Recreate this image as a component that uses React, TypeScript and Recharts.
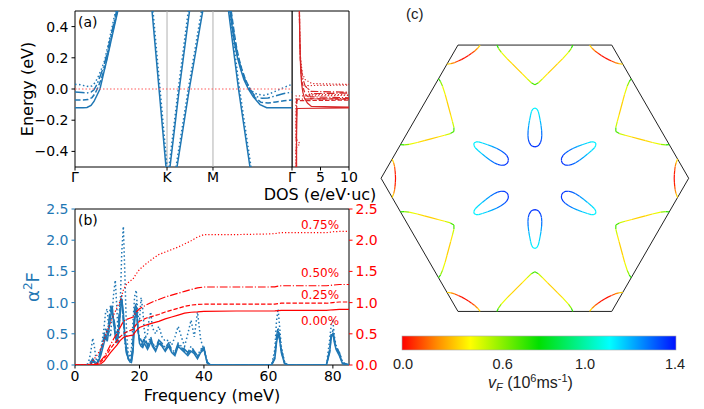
import React from 'react';
import { LineChart, Line, XAxis, YAxis, ReferenceLine, ReferenceArea } from 'recharts';

type Pt = [number, number];

const BLUE = '#1f77b4';
const RED = '#ff0000';
const DOS_RED = '#d62728';

// line styles for the four strains: 0.00 / 0.25 / 0.50 / 0.75 %
const DASH_025 = '5.5 2.4';
const DASH_050 = '9.6 2.4 1.5 2.4';
const DASH_075 = '1.5 2.5';

// ---------- (a) bands, k-path Γ-K-M-Γ ----------
const K_TICKS = [0, 1.338, 2.006, 3.155];
const K_LABELS = ['Γ', 'K', 'M', 'Γ'];
const E_TICKS = [-0.4, -0.2, 0, 0.2, 0.4];

const BAND_A_000: Pt[] = [[0, -0.12], [0.116, -0.12], [0.174, -0.118], [0.233, -0.105], [0.276, -0.08], [0.32, -0.04], [0.363, 0], [0.416, 0.1], [0.47, 0.2], [0.52, 0.3], [0.571, 0.4], [0.622, 0.5]];
const BAND_A_025: Pt[] = [[0, -0.07], [0.116, -0.07], [0.189, -0.068], [0.247, -0.055], [0.291, -0.03], [0.334, 0.01], [0.378, 0.06], [0.422, 0.12], [0.465, 0.2], [0.513, 0.3], [0.564, 0.4], [0.614, 0.5]];
const BAND_A_050: Pt[] = [[0, -0.02], [0.102, -0.022], [0.174, -0.025], [0.233, -0.02], [0.276, -0.005], [0.32, 0.03], [0.364, 0.08], [0.407, 0.13], [0.451, 0.2], [0.502, 0.3], [0.553, 0.4], [0.604, 0.5]];
const BAND_A_075: Pt[] = [[0, 0.03], [0.073, 0.028], [0.145, 0.02], [0.204, 0.015], [0.247, 0.02], [0.291, 0.04], [0.334, 0.075], [0.378, 0.12], [0.429, 0.18], [0.48, 0.28], [0.531, 0.38], [0.589, 0.5]];

const BAND_B: Pt[] = [[1.12, 0.5], [1.323, -0.5]];
const BAND_B_075: Pt[] = [[1.134, 0.5], [1.338, -0.5]];
const BAND_C: Pt[] = [[1.381, -0.5], [1.516, 0], [1.665, 0.5]];
const BAND_C_075: Pt[] = [[1.367, -0.5], [1.502, 0], [1.647, 0.5]];
const BAND_D: Pt[] = [[1.483, -0.5], [1.662, 0], [1.857, 0.5]];
const BAND_D_075: Pt[] = [[1.468, -0.5], [1.647, 0], [1.839, 0.5]];
const BAND_E: Pt[] = [[2.232, 0.5], [2.377, 0], [2.544, -0.5]];
const BAND_E_075: Pt[] = [[2.246, 0.5], [2.392, 0], [2.559, -0.5]];

const BAND_F_000: Pt[] = [[2.254, 0.5], [2.275, 0.43], [2.297, 0.36], [2.326, 0.28], [2.363, 0.2], [2.406, 0.13], [2.457, 0.06], [2.52, 0], [2.592, -0.05], [2.69, -0.1], [2.787, -0.12], [2.908, -0.12], [3.155, -0.12]];
const BAND_F_025: Pt[] = [[2.271, 0.5], [2.293, 0.43], [2.315, 0.36], [2.344, 0.28], [2.38, 0.2], [2.424, 0.13], [2.479, 0.06], [2.544, 0], [2.617, -0.055], [2.704, -0.085], [2.806, -0.09], [2.922, -0.083], [3.039, -0.075], [3.155, -0.07]];
const BAND_F_050: Pt[] = [[2.265, 0.5], [2.287, 0.43], [2.309, 0.36], [2.338, 0.28], [2.374, 0.2], [2.418, 0.13], [2.472, 0.06], [2.537, 0], [2.617, -0.045], [2.719, -0.06], [2.806, -0.058], [2.908, -0.045], [3.024, -0.03], [3.155, -0.02]];
const BAND_F_075: Pt[] = [[2.261, 0.5], [2.283, 0.43], [2.304, 0.36], [2.334, 0.28], [2.37, 0.2], [2.413, 0.13], [2.464, 0.07], [2.53, 0.01], [2.602, -0.025], [2.661, -0.035], [2.748, -0.04], [2.835, -0.03], [2.937, -0.01], [3.039, 0.01], [3.155, 0.03]];

// DOS as [dos, energy]
const DOS_TICKS = [5, 10];
const DOS_000: Pt[] = [[0.8, -0.5], [0.8, -0.3], [0.85, -0.2], [0.9, -0.125], [12, -0.12], [12, -0.117], [3.4, -0.112], [2.7, -0.09], [2.2, -0.06], [1.9, -0.02], [1.7, 0.03], [1.55, 0.1], [1.45, 0.2], [1.35, 0.35], [1.3, 0.5]];
const DOS_025: Pt[] = [[0.78, -0.5], [0.78, -0.2], [0.85, -0.075], [12, -0.07], [12, -0.067], [3.3, -0.062], [2.5, -0.04], [2.1, -0.01], [1.8, 0.04], [1.6, 0.1], [1.45, 0.2], [1.35, 0.35], [1.3, 0.5]];
const DOS_050: Pt[] = [[0.75, -0.5], [0.75, -0.2], [0.8, -0.065], [12, -0.06], [12, -0.058], [3.2, -0.05], [3.0, -0.03], [12, -0.025], [12, -0.022], [3.3, -0.015], [2.3, 0.02], [1.8, 0.08], [1.5, 0.18], [1.35, 0.35], [1.3, 0.5]];
const DOS_075: Pt[] = [[0.7, -0.5], [0.7, -0.38], [1.4, -0.35], [0.7, -0.32], [0.7, -0.045], [12, -0.04], [12, -0.038], [3.0, -0.034], [2.8, 0], [2.8, 0.022], [12, 0.026], [12, 0.028], [3.5, 0.035], [2.3, 0.06], [1.8, 0.1], [1.5, 0.2], [1.35, 0.35], [1.3, 0.5]];

// ---------- (b) Eliashberg function and cumulative lambda ----------
const FREQ = [0, 3, 4, 4.5, 5, 5.5, 6, 6.5, 7, 7.5, 8, 8.5, 9, 9.5, 10, 10.5, 11, 11.5, 12, 12.5, 13, 13.5, 14, 14.5, 15, 15.5, 16, 16.5, 17, 17.5, 18, 18.5, 19, 19.5, 20, 20.5, 21, 21.5, 22, 22.5, 23, 23.5, 24, 25, 26, 27, 28, 29, 30, 31, 32, 33, 34, 35, 36, 37, 38, 39, 40, 41, 42, 61, 62, 62.5, 63, 63.5, 64, 65, 66, 78, 79, 79.5, 80, 80.5, 81, 82, 83, 85];
const A2F_000 = [0, 0, 0, 0.01, 0.02, 0.05, 0.04, 0.02, 0.03, 0.08, 0.15, 0.25, 0.35, 0.45, 0.38, 0.55, 0.75, 0.95, 0.7, 0.45, 0.35, 0.5, 0.8, 1.05, 0.85, 0.45, 0.25, 0.12, 0.05, 0.04, 0.2, 0.7, 0.92, 0.6, 0.35, 0.3, 0.28, 0.35, 0.3, 0.25, 0.3, 0.38, 0.3, 0.22, 0.35, 0.3, 0.22, 0.3, 0.2, 0.15, 0.3, 0.25, 0.2, 0.15, 0.22, 0.18, 0.1, 0.2, 0.25, 0.03, 0, 0, 0.1, 0.35, 0.5, 0.4, 0.2, 0.02, 0, 0, 0.2, 0.45, 0.5, 0.35, 0.25, 0.15, 0.02, 0];
const A2F_025 = [0, 0, 0, 0.02, 0.04, 0.07, 0.05, 0.03, 0.05, 0.1, 0.2, 0.3, 0.4, 0.5, 0.42, 0.6, 0.85, 0.9, 0.65, 0.5, 0.4, 0.6, 0.9, 1.0, 0.75, 0.4, 0.2, 0.1, 0.05, 0.06, 0.3, 0.8, 0.95, 0.55, 0.4, 0.35, 0.3, 0.4, 0.35, 0.28, 0.35, 0.4, 0.32, 0.25, 0.38, 0.32, 0.25, 0.33, 0.22, 0.18, 0.32, 0.28, 0.22, 0.18, 0.25, 0.2, 0.12, 0.22, 0.27, 0.04, 0, 0, 0.12, 0.4, 0.55, 0.42, 0.22, 0.03, 0, 0, 0.22, 0.48, 0.52, 0.38, 0.27, 0.17, 0.03, 0];
const A2F_050 = [0, 0, 0, 0.03, 0.06, 0.1, 0.06, 0.04, 0.08, 0.15, 0.25, 0.35, 0.45, 0.6, 0.5, 0.7, 0.95, 0.8, 0.75, 0.6, 0.45, 0.7, 1.0, 1.12, 0.7, 0.35, 0.18, 0.1, 0.06, 0.1, 0.4, 0.9, 1.0, 0.6, 0.45, 0.4, 0.35, 0.45, 0.4, 0.3, 0.4, 0.45, 0.35, 0.28, 0.4, 0.35, 0.28, 0.35, 0.25, 0.2, 0.35, 0.3, 0.25, 0.2, 0.3, 0.22, 0.15, 0.25, 0.28, 0.05, 0, 0, 0.15, 0.45, 0.6, 0.45, 0.25, 0.04, 0, 0, 0.25, 0.5, 0.55, 0.4, 0.3, 0.2, 0.04, 0];
const A2F_075 = [0, 0, 0.02, 0.1, 0.25, 0.43, 0.3, 0.1, 0.05, 0.1, 0.25, 0.4, 0.6, 0.85, 0.9, 0.55, 0.45, 0.8, 1.15, 1.36, 0.9, 0.35, 0.9, 1.8, 2.22, 1.4, 0.5, 0.2, 0.12, 0.25, 0.7, 1.1, 1.2, 0.8, 0.7, 1.08, 0.9, 0.55, 0.45, 0.5, 0.75, 0.85, 0.6, 0.5, 0.62, 0.45, 0.38, 0.4, 0.32, 0.45, 0.62, 0.45, 0.3, 0.5, 0.72, 0.45, 0.85, 0.4, 0.25, 0.05, 0, 0, 0.25, 0.7, 0.9, 0.6, 0.3, 0.05, 0, 0, 0.4, 0.65, 0.7, 0.45, 0.3, 0.2, 0.04, 0];

const LAM_FREQ = [0, 4, 5, 6, 7, 8, 9, 10, 11, 12, 13, 14, 15, 16, 17, 18, 19, 20, 22, 24, 26, 28, 30, 32, 34, 36, 38, 40, 50, 60, 62, 63, 64, 66, 78, 80, 82, 85];
const LAM_000 = [0, 0, 0, 0.005, 0.01, 0.02, 0.06, 0.13, 0.2, 0.26, 0.32, 0.39, 0.44, 0.46, 0.47, 0.48, 0.55, 0.6, 0.64, 0.67, 0.7, 0.74, 0.77, 0.8, 0.83, 0.845, 0.85, 0.86, 0.865, 0.865, 0.866, 0.87, 0.875, 0.876, 0.876, 0.885, 0.89, 0.89];
const LAM_025 = [0, 0, 0, 0.01, 0.02, 0.05, 0.1, 0.18, 0.26, 0.33, 0.39, 0.45, 0.5, 0.53, 0.55, 0.57, 0.65, 0.7, 0.75, 0.78, 0.81, 0.85, 0.88, 0.91, 0.94, 0.96, 0.97, 0.975, 0.975, 0.975, 0.977, 0.985, 0.99, 0.99, 0.99, 1.0, 1.01, 1.01];
const LAM_050 = [0, 0, 0, 0.01, 0.03, 0.07, 0.13, 0.22, 0.32, 0.42, 0.5, 0.6, 0.7, 0.73, 0.75, 0.77, 0.85, 0.9, 0.96, 1.01, 1.05, 1.09, 1.12, 1.15, 1.18, 1.21, 1.235, 1.25, 1.25, 1.25, 1.252, 1.265, 1.27, 1.27, 1.27, 1.28, 1.29, 1.29];
const LAM_075 = [0, 0.005, 0.03, 0.1, 0.17, 0.26, 0.4, 0.55, 0.67, 0.8, 0.92, 1.02, 1.2, 1.3, 1.34, 1.38, 1.46, 1.53, 1.62, 1.7, 1.77, 1.81, 1.85, 1.89, 1.94, 1.99, 2.05, 2.09, 2.09, 2.1, 2.105, 2.115, 2.12, 2.12, 2.12, 2.135, 2.14, 2.14];

const FREQ_TICKS = [0, 20, 40, 60, 80];
const A2F_TICKS = [0, 0.5, 1, 1.5, 2, 2.5];
const STRAIN_LABELS = ['0.75%', '0.50%', '0.25%', '0.00%'];

// ---------- (c) Fermi surface, one sector (rotated by 60° steps) ----------
const HEX: Pt[] = [[1, 0], [0.5, 0.866], [-0.5, 0.866], [-1, 0], [-0.5, -0.866], [0.5, -0.866], [1, 0]];
const ROTATIONS = [0, 60, 120, 180, 240, 300];

const ARC_XY: Pt[] = [[0.928, 0.125], [0.918, 0.1], [0.912, 0.075], [0.909, 0.05], [0.907, 0.025], [0.906, 0], [0.907, -0.025], [0.909, -0.05], [0.912, -0.075], [0.918, -0.1], [0.928, -0.125]];
const ARC_V = [0.36, 0.22, 0.12, 0.06, 0.03, 0.02, 0.03, 0.06, 0.12, 0.22, 0.36];

const VEE_XY: Pt[] = [[-0.247, 0.866], [-0.237, 0.845], [-0.218, 0.819], [-0.181, 0.778], [-0.148, 0.745], [-0.116, 0.713], [-0.083, 0.68], [-0.051, 0.648], [-0.023, 0.621], [0, 0.608], [0.023, 0.621], [0.051, 0.648], [0.083, 0.68], [0.116, 0.713], [0.148, 0.745], [0.181, 0.778], [0.218, 0.819], [0.237, 0.845], [0.247, 0.866]];
const VEE_V = [0.72, 0.58, 0.42, 0.32, 0.29, 0.28, 0.29, 0.34, 0.5, 0.68, 0.5, 0.34, 0.29, 0.28, 0.29, 0.32, 0.42, 0.58, 0.72];

const POCKET_XY: Pt[] = [[0, 0.457], [0.013, 0.45], [0.022, 0.435], [0.028, 0.41], [0.035, 0.375], [0.04, 0.345], [0.044, 0.31], [0.045, 0.28], [0.043, 0.255], [0.037, 0.233], [0.026, 0.215], [0.013, 0.207], [0, 0.204], [-0.013, 0.207], [-0.026, 0.215], [-0.037, 0.233], [-0.043, 0.255], [-0.045, 0.28], [-0.044, 0.31], [-0.04, 0.345], [-0.035, 0.375], [-0.028, 0.41], [-0.022, 0.435], [-0.013, 0.45], [0, 0.457]];
const POCKET_V = [1.08, 1.08, 1.09, 1.1, 1.13, 1.18, 1.23, 1.27, 1.3, 1.32, 1.34, 1.35, 1.35, 1.35, 1.34, 1.32, 1.3, 1.27, 1.23, 1.18, 1.13, 1.1, 1.09, 1.08, 1.08];

const VF_STOPS: [number, string][] = [[0, '#ff0000'], [0.18, '#ff8c00'], [0.35, '#ffff00'], [0.7, '#00e000'], [1.06, '#00ffff'], [1.4, '#0010ff']];
const VF_TICKS = ['0.0', '0.6', '1.0', '1.4'];

const toXY = (pts: Pt[]) => pts.map(([x, y]) => ({ x, y }));
const series = (xs: number[], ys: number[]) => xs.map((f, i) => ({ f, v: ys[i] }));
const fmt1 = (v: number) => v.toFixed(1).replace('-', '\u2212');

function hex2rgb(h: string) {
  return [1, 3, 5].map((i) => parseInt(h.slice(i, i + 2), 16));
}

function vfColor(v: number) {
  for (let i = 0; i < VF_STOPS.length - 1; i++) {
    const [v0, c0] = VF_STOPS[i];
    const [v1, c1] = VF_STOPS[i + 1];
    if (v <= v1) {
      const t = Math.max(0, (v - v0) / (v1 - v0));
      const a = hex2rgb(c0);
      const b = hex2rgb(c1);
      const rgb = a.map((x, k) => Math.round(x + (b[k] - x) * t));
      return '#' + rgb.map((x) => x.toString(16).padStart(2, '0')).join('');
    }
  }
  return VF_STOPS[VF_STOPS.length - 1][1];
}

const rot = ([x, y]: Pt, deg: number): Pt => {
  const a = (deg * Math.PI) / 180;
  return [x * Math.cos(a) - y * Math.sin(a), x * Math.sin(a) + y * Math.cos(a)];
};

// group contour segments by colour, gaps marked with null
function buildContours() {
  const groups = new Map<string, { x: number; y: number | null }[]>();
  const features: [Pt[], number[]][] = [[ARC_XY, ARC_V], [VEE_XY, VEE_V], [POCKET_XY, POCKET_V]];
  for (const deg of ROTATIONS) {
    for (const [pts, vs] of features) {
      const r = pts.map((p) => rot(p, deg));
      for (let i = 0; i < r.length - 1; i++) {
        const v = Math.round(((vs[i] + vs[i + 1]) / 2) * 50) / 50;
        const c = vfColor(v);
        if (!groups.has(c)) groups.set(c, []);
        const g = groups.get(c)!;
        g.push({ x: r[i][0], y: r[i][1] }, { x: r[i + 1][0], y: r[i + 1][1] }, { x: r[i + 1][0], y: null });
      }
    }
  }
  return Array.from(groups.entries());
}

const tickStyle = { fill: '#000', fontSize: 14, fontFamily: 'DejaVu Sans' };
const blackTick = { stroke: '#000' };

export default function App() {
  const contours = buildContours();
  const band = (pts: Pt[], dash?: string) => (
    <Line data={toXY(pts)} dataKey="y" type="linear" stroke={BLUE} strokeWidth={1.5} strokeDasharray={dash} dot={false} isAnimationActive={false} />
  );
  const dos = (pts: Pt[], dash?: string) => (
    <Line data={toXY(pts)} dataKey="y" type="linear" stroke={DOS_RED} strokeWidth={1.2} strokeDasharray={dash} dot={false} isAnimationActive={false} />
  );
  const a2f = (ys: number[], dash?: string) => (
    <Line yAxisId="l" data={series(FREQ, ys)} dataKey="v" type="linear" stroke={BLUE} strokeWidth={1.5} strokeDasharray={dash} dot={false} isAnimationActive={false} />
  );
  const lam = (ys: number[], dash?: string) => (
    <Line yAxisId="r" data={series(LAM_FREQ, ys)} dataKey="v" type="linear" stroke={RED} strokeWidth={1.2} strokeDasharray={dash} dot={false} isAnimationActive={false} />
  );

  return (
    <div style={{ position: 'absolute', left: 0, top: 0, width: 704, height: 409, background: '#fff', overflow: 'hidden' }}>
      {/* (a) band structure */}
      <div style={{ position: 'absolute', left: 0, top: 0 }}>
        <LineChart width={304} height={197} margin={{ top: 11, right: 12, bottom: 0, left: 0 }}>
          <XAxis type="number" dataKey="x" domain={[0, 3.155]} allowDataOverflow ticks={K_TICKS} interval={0}
            tickFormatter={(v: number) => K_LABELS[K_TICKS.indexOf(v)]} tick={tickStyle} tickSize={3.5} tickMargin={2}
            height={30} axisLine={false} tickLine={blackTick} />
          <YAxis type="number" domain={[-0.5, 0.5]} allowDataOverflow ticks={E_TICKS} interval={0} tickFormatter={fmt1}
            width={75} tick={tickStyle} tickSize={3.5} tickMargin={3} axisLine={false} tickLine={blackTick} />
          <ReferenceLine x={K_TICKS[1]} stroke="#b0b0b0" strokeWidth={1} />
          <ReferenceLine x={K_TICKS[2]} stroke="#b0b0b0" strokeWidth={1} />
          {band(BAND_A_000)}
          {band(BAND_A_025, DASH_025)}
          {band(BAND_A_050, DASH_050)}
          {band(BAND_A_075, DASH_075)}
          {band(BAND_B)}
          {band(BAND_B_075, DASH_075)}
          {band(BAND_C)}
          {band(BAND_C_075, DASH_075)}
          {band(BAND_D)}
          {band(BAND_D_075, DASH_075)}
          {band(BAND_E)}
          {band(BAND_E_075, DASH_075)}
          {band(BAND_F_000)}
          {band(BAND_F_025, DASH_025)}
          {band(BAND_F_050, DASH_050)}
          {band(BAND_F_075, DASH_075)}
          <ReferenceLine y={0} stroke="#ff5a5a" strokeDasharray="1.5 2" strokeWidth={1.2} />
          <ReferenceArea x1={0} x2={3.155} y1={-0.5} y2={0.5} fill="none" fillOpacity={0} stroke="#000" strokeWidth={1} />
        </LineChart>
      </div>

      {/* (a) DOS */}
      <div style={{ position: 'absolute', left: 292, top: 0 }}>
        <LineChart width={71} height={197} margin={{ top: 11, right: 14, bottom: 0, left: 0 }}>
          <XAxis type="number" dataKey="x" domain={[0, 10]} allowDataOverflow ticks={DOS_TICKS} interval={0}
            tick={tickStyle} tickSize={3.5} tickMargin={2} height={30} axisLine={false} tickLine={blackTick} />
          <YAxis type="number" domain={[-0.5, 0.5]} allowDataOverflow hide />
          {dos(DOS_000)}
          {dos(DOS_025, '4.4 1.9')}
          {dos(DOS_050, '7.7 1.9 1.2 1.9')}
          {dos(DOS_075, '1.2 2')}
          <ReferenceArea x1={0} x2={10} y1={-0.5} y2={0.5} fill="none" fillOpacity={0} stroke="#000" strokeWidth={1} />
        </LineChart>
      </div>

      {/* (b) alpha^2 F and lambda */}
      <div style={{ position: 'absolute', left: 0, top: 190 }}>
        <LineChart width={379} height={205} margin={{ top: 19, right: 0, bottom: 0, left: 0 }}>
          <XAxis type="number" dataKey="f" domain={[0, 85]} allowDataOverflow ticks={FREQ_TICKS} interval={0}
            tick={tickStyle} tickSize={3.5} tickMargin={3} height={30} axisLine={false} tickLine={blackTick} />
          <YAxis yAxisId="l" type="number" domain={[0, 2.5]} allowDataOverflow ticks={A2F_TICKS} interval={0} tickFormatter={fmt1}
            width={75} tick={{ ...tickStyle, fill: BLUE }} tickSize={3.5} tickMargin={3} axisLine={false} tickLine={{ stroke: BLUE }} />
          <YAxis yAxisId="r" orientation="right" type="number" domain={[0, 2.5]} allowDataOverflow ticks={A2F_TICKS} interval={0}
            tickFormatter={fmt1} width={30} tick={{ ...tickStyle, fill: RED }} tickSize={3.5} tickMargin={3} axisLine={false}
            tickLine={{ stroke: RED }} />
          {a2f(A2F_075, DASH_075)}
          {a2f(A2F_050, DASH_050)}
          {a2f(A2F_025, DASH_025)}
          {a2f(A2F_000)}
          {lam(LAM_000)}
          {lam(LAM_025, '4.4 1.9')}
          {lam(LAM_050, '7.7 1.9 1.2 1.9')}
          {lam(LAM_075, '1.2 2')}
          <ReferenceArea yAxisId="l" x1={0} x2={85} y1={0} y2={2.5} fill="none" fillOpacity={0} stroke="#000" strokeWidth={1} />
        </LineChart>
      </div>

      {/* (c) Fermi surface */}
      <div style={{ position: 'absolute', left: 377.6, top: 41.7 }}>
        <LineChart width={313.75} height={272.5} margin={{ top: 0, right: 0, bottom: 0, left: 0 }}>
          <XAxis type="number" dataKey="x" domain={[-1.02, 1.02]} allowDataOverflow hide />
          <YAxis type="number" domain={[-0.886, 0.886]} allowDataOverflow hide />
          <Line data={toXY(HEX)} dataKey="y" type="linear" stroke="#222" strokeWidth={1} dot={false} isAnimationActive={false} />
          {contours.map(([c, d]) => (
            <Line key={c} data={d} dataKey="y" type="linear" stroke={c} strokeWidth={1.2} dot={false} isAnimationActive={false} />
          ))}
        </LineChart>
      </div>

      {/* labels and colour bar */}
      <svg width={704} height={409} style={{ position: 'absolute', left: 0, top: 0, pointerEvents: 'none' }}>
        <defs>
          <linearGradient id="vfbar" x1="0" y1="0" x2="1" y2="0">
            {VF_STOPS.map(([v, c]) => (
              <stop key={v} offset={v / 1.4} stopColor={c} />
            ))}
          </linearGradient>
        </defs>
        <g fontFamily="DejaVu Sans">
          <text x={78} y={27} fontSize={14}>(a)</text>
          <text x={78} y={225} fontSize={14}>(b)</text>
          <text transform="translate(27,89) rotate(-90)" fontSize={16} textAnchor="middle" dominantBaseline="central">Energy (eV)</text>
          <text x={320} y={200} fontSize={16} textAnchor="middle">DOS (e/eV·uc)</text>
          <text x={212} y={395} fontSize={16} textAnchor="middle" dominantBaseline="central">Frequency (meV)</text>
          <text transform="translate(39,287) rotate(-90)" fontSize={18} fill={BLUE} textAnchor="middle">
            α<tspan fontSize={12} dy={-7}>2</tspan><tspan dy={7}>F</tspan>
          </text>
          {STRAIN_LABELS.map((s, i) => (
            <text key={s} x={320} y={[225, 272.5, 294.5, 321][i]} fontSize={12} fill={RED} textAnchor="middle" dominantBaseline="central">{s}</text>
          ))}
        </g>
        <g fontFamily="Liberation Sans" fill="#222">
          <text x={406} y={19} fontSize={15}>(c)</text>
          <rect x={402} y={336} width={274} height={14} fill="url(#vfbar)" stroke="#aaa" strokeWidth={0.6} />
          {VF_TICKS.map((t, i) => (
            <text key={t} x={[403, 502.7, 585, 675][i]} y={368.5} fontSize={14.5} textAnchor="middle">{t}</text>
          ))}
          <text x={488} y={388} fontSize={16}>
            <tspan fontStyle="italic">v</tspan><tspan fontStyle="italic" fontSize={11} dy={3}>F</tspan>
            <tspan dy={-3}> (10</tspan><tspan fontSize={11} dy={-6}>6</tspan><tspan dy={6}>ms</tspan>
            <tspan fontSize={11} dy={-6}>-1</tspan><tspan dy={6}>)</tspan>
          </text>
        </g>
      </svg>
    </div>
  );
}
